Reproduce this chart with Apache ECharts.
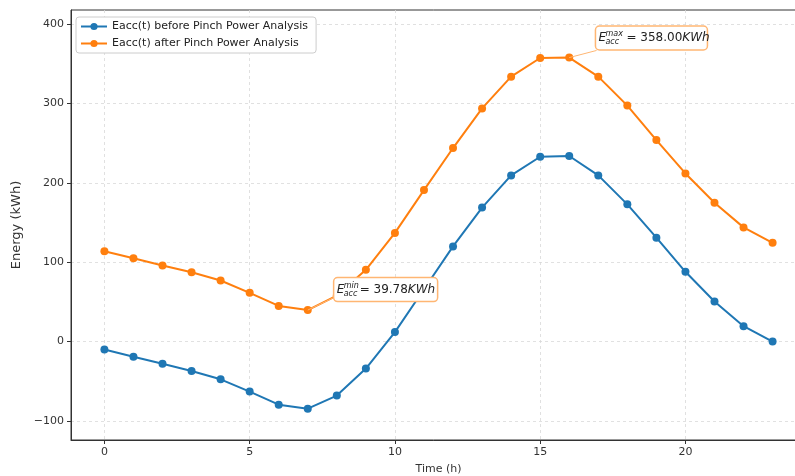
<!DOCTYPE html>
<html>
<head>
<meta charset="utf-8">
<script src="https://cdn.jsdelivr.net/npm/echarts@6/dist/echarts.min.js"></script>
<style>
  html, body { margin: 0; padding: 0; background: #fff; }
  #chart { width: 795px; height: 476px; }
</style>
</head>
<body>
<div id="chart"></div>
<script>
const hours = [0, 1, 2, 3, 4, 5, 6, 7, 8, 9, 10, 11, 12, 13, 14, 15, 16, 17, 18, 19, 20, 21, 22, 23]
const before = [-10, -19, -28, -37, -47.5, -63, -79.5, -84.5, -68, -34, 12, 66, 120, 169, 209.5, 233, 234, 209.5, 173, 131, 88, 50.5, 19.5, 0]
const after = [114, 105, 96, 87.5, 77, 61.5, 45, 39.78, 58, 90.5, 137, 191, 244, 294, 334, 357.5, 358, 334, 297.5, 254, 212, 175, 144, 124.5]
const xTicks = [0, 5, 10, 15, 20]
const yTicks = [-100, 0, 100, 200, 300, 400]

const blue = '#1f77b4'
const orange = '#ff7f0e'
const boxEdge = '#ffb673'

// annotation anchors (data coords): box centre, arrow start, arrow end
const minNote = { at: [9.68, 65.6], from: [7.87, 55.1], to: [7, 39.78], sup: 'min', value: '39.78', w: 104, eq: 26 }
const maxNote = { at: [18.83, 382.7], from: [16.94, 367], to: [16, 358], sup: 'max', value: '358.00', w: 112, eq: 31 }

const chart = echarts.init(document.getElementById('chart'))

const txt = { color: '#333', fontFamily: 'DejaVu Sans', fontSize: 11 }

chart.setOption({
  animation: false,
  textStyle: { fontFamily: 'DejaVu Sans' },
  grid: {
    left: 71, top: 10, width: 735, height: 430,
    outerBoundsMode: 'none', containLabel: false,
    show: true, borderColor: '#333', borderWidth: 1, backgroundColor: 'transparent',
  },
  legend: {
    left: 76, top: 17, orient: 'vertical',
    itemWidth: 26, itemHeight: 9, itemGap: 6,
    padding: [4, 8, 4, 4],
    backgroundColor: '#fff', borderColor: '#ccc', borderWidth: 1, borderRadius: 3,
    textStyle: { color: '#222', fontSize: 11, fontFamily: 'DejaVu Sans' },
  },
  xAxis: {
    type: 'value', min: -1.15, max: 24.15,
    name: 'Time (h)', nameLocation: 'middle', nameGap: 24,
    nameTextStyle: txt,
    axisLine: { show: true, onZero: false, lineStyle: { color: '#333', width: 1 } },
    axisTick: { show: true, length: 4, customValues: xTicks, lineStyle: { color: '#333' } },
    axisLabel: { customValues: xTicks, margin: 7, ...txt },
    splitLine: { show: true, lineStyle: { color: '#d9d9d9', type: [3, 3], width: 0.8 } },
  },
  yAxis: {
    type: 'value', min: -124, max: 418,
    name: 'Energy (kWh)', nameLocation: 'middle', nameGap: 45,
    nameTextStyle: { ...txt, fontSize: 13 },
    axisLine: { show: true, onZero: false, lineStyle: { color: '#333', width: 1 } },
    axisTick: { show: true, length: 4, customValues: yTicks, lineStyle: { color: '#333' } },
    axisLabel: { customValues: yTicks, margin: 7, ...txt, formatter: v => (v < 0 ? '\u2212' + (-v) : '' + v) },
    splitLine: { show: true, lineStyle: { color: '#d9d9d9', type: [3, 3], width: 0.8 } },
  },
  series: [
    {
      name: 'Eacc(t) before Pinch Power Analysis',
      type: 'line',
      data: hours.map((h, i) => [h, before[i]]),
      symbol: 'circle', symbolSize: 8, showAllSymbol: true,
      itemStyle: { color: blue },
      lineStyle: { color: blue, width: 2 },
      z: 3,
    },
    {
      name: 'Eacc(t) after Pinch Power Analysis',
      type: 'line',
      data: hours.map((h, i) => [h, after[i]]),
      symbol: 'circle', symbolSize: 8, showAllSymbol: true,
      itemStyle: { color: orange },
      lineStyle: { color: orange, width: 2 },
      z: 4,
      markLine: {
        silent: true,
        symbol: ['none', 'arrow'], symbolSize: [0, 6],
        label: { show: false },
        lineStyle: { color: boxEdge, width: 1, type: 'solid' },
        data: [
          [{ coord: minNote.from }, { coord: minNote.to }],
          [{ coord: maxNote.from }, { coord: maxNote.to }],
        ],
      },
    },
  ],
})

function noteGraphic(note) {
  const [cx, cy] = chart.convertToPixel({ xAxisIndex: 0, yAxisIndex: 0 }, note.at)
  const w = note.w, h = 24
  const font = { fontFamily: 'DejaVu Sans', fill: '#222', verticalAlign: 'middle' }
  return {
    type: 'group', x: cx - w / 2, y: cy, z: 100, zlevel: 1,
    children: [
      { type: 'rect', z: 100, shape: { x: 0, y: -h / 2, width: w, height: h, r: 4 },
        style: { fill: '#fff', stroke: boxEdge, lineWidth: 1.5 } },
      { type: 'text', z: 101, x: 3, y: 0, style: { ...font, text: 'E', fontSize: 12, fontStyle: 'italic' } },
      { type: 'text', z: 101, x: 10, y: -4, style: { ...font, text: note.sup, fontSize: 8, fontStyle: 'italic' } },
      { type: 'text', z: 101, x: 10, y: 4, style: { ...font, text: 'acc', fontSize: 8, fontStyle: 'italic' } },
      { type: 'text', z: 101, x: note.eq, y: 0, style: {
          ...font, text: '= ' + note.value + '{i|KWh}', fontSize: 12,
          rich: { i: { fontStyle: 'italic', fontSize: 12, fontFamily: 'DejaVu Sans', fill: '#222' } } } },
    ],
  }
}

chart.setOption({ graphic: [noteGraphic(minNote), noteGraphic(maxNote)] })
</script>
</body>
</html>
